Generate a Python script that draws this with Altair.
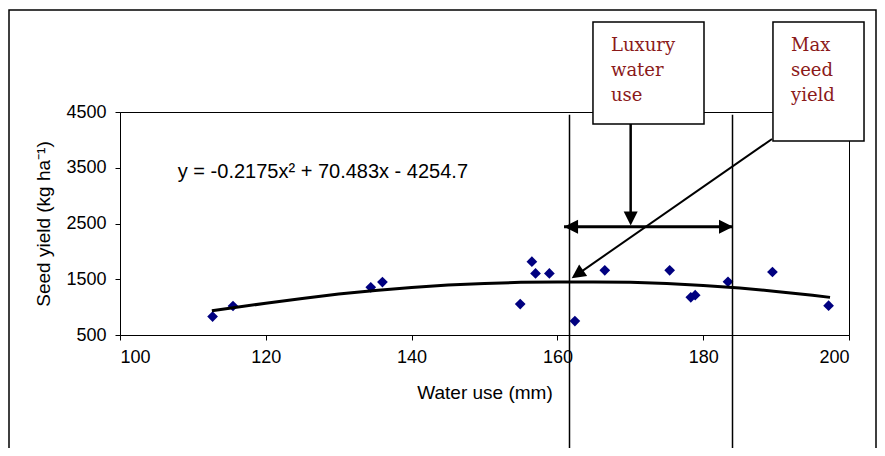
import altair as alt
import pandas as pd

# ---- data ----
water_use = [112.7, 115.5, 134.4, 136.0, 154.9, 156.5, 157.0, 158.9,
             162.4, 166.5, 175.4, 178.3, 178.9, 183.4, 189.5, 197.2]
seed_yield = [830, 1020, 1355, 1450, 1055, 1815, 1605, 1605,
              750, 1660, 1660, 1175, 1215, 1455, 1630, 1025]

curve_water = [112.6, 120, 125, 130, 135, 140, 145, 150, 155, 160,
               165, 170, 175, 180, 185, 190, 195, 197.4]
curve_yield = [935, 1070, 1155, 1235, 1300, 1350, 1395, 1425, 1445, 1452,
               1452, 1445, 1425, 1390, 1345, 1280, 1215, 1175]

x_ticks = [100, 120, 140, 160, 180, 200]
y_ticks = [500, 1500, 2500, 3500, 4500]

equation = "y = -0.2175x\u00b2 + 70.483x - 4254.7"
luxury_label = ["Luxury", "water", "use"]
max_label = ["Max", "seed", "yield"]
luxury_bounds = [161.66, 184.02]  # water use marking the luxury range

# ---- layout ----
W, H = 729, 223
xscale = alt.Scale(domain=[100, 200], nice=False, zero=False)
yscale = alt.Scale(domain=[500, 4500], nice=False, zero=False)
x_axis = alt.Axis(values=x_ticks, title="Water use (mm)", format="d", labelPadding=8,
                  titlePadding=17, tickSize=5, grid=False,
                  labelFont="Liberation Sans", labelFontSize=18, labelColor="black",
                  titleFont="Liberation Sans", titleFontSize=19, titleFontWeight="normal",
                  titleColor="black", domainColor="black", tickColor="black")
y_axis = alt.Axis(values=y_ticks, title="Seed yield (kg ha\u207b\u00b9)", format="d", labelPadding=9,
                  titlePadding=12, tickSize=5, grid=False,
                  labelFont="Liberation Sans", labelFontSize=18, labelColor="black",
                  titleFont="Liberation Sans", titleFontSize=19, titleFontWeight="normal",
                  titleColor="black", domainColor="black", tickColor="black")


def X(f):
    return alt.X(f"{f}:Q", scale=xscale, axis=x_axis)


def Y(f):
    return alt.Y(f"{f}:Q", scale=yscale, axis=y_axis)


pts = pd.DataFrame({"x": water_use, "y": seed_yield})
crv = pd.DataFrame({"x": curve_water, "y": curve_yield})

scatter = alt.Chart(pts).mark_point(shape="diamond", filled=True, size=115,
                                    color="#000080", opacity=1).encode(x=X("x"), y=Y("y"))
curve = alt.Chart(crv).mark_line(color="black", strokeWidth=3).encode(
    x=X("x"), y=Y("y"), order="x:Q")

vlines = alt.Chart(pd.DataFrame({"x": luxury_bounds, "y": [4450, 4450], "y2": [-2200, -2200]})).mark_rule(
    color="black", strokeWidth=1.5).encode(x=X("x"), y=Y("y"), y2="y2:Q")

# annotation geometry (data units)
arrow_y = 2442
hstem = alt.Chart(pd.DataFrame({"x": [160.91], "x2": [184.09], "y": [arrow_y]})).mark_rule(
    color="black", strokeWidth=3).encode(x=X("x"), x2="x2:Q", y=Y("y"))
vstem = alt.Chart(pd.DataFrame({"x": [170.05], "y": [4285], "y2": [2560]})).mark_rule(
    color="black", strokeWidth=2.5).encode(x=X("x"), y=Y("y"), y2="y2:Q")
dstem = alt.Chart(pd.DataFrame({"x": [189.44], "x2": [162.6], "y": [4016], "y2": [1575]})).mark_rule(
    color="black", strokeWidth=2).encode(x=X("x"), x2="x2:Q", y=Y("y"), y2="y2:Q")

head_path = "M0,0L-2,-1L-2,1Z"
heads = pd.DataFrame({
    "x": [160.91, 184.09, 170.05, 161.96],
    "y": [arrow_y, arrow_y, 2462, 1517],
    "a": [180, 0, 90, 145],
})
arrowheads = alt.Chart(heads).mark_point(shape=head_path, filled=True, size=196,
                                         color="black", opacity=1, strokeWidth=0).encode(
    x=X("x"), y=Y("y"), angle=alt.Angle("a:Q", scale=None))

boxes = pd.DataFrame({
    "x": [164.88, 189.57], "x2": [180.11, 202.06],
    "y": [6115, 6115], "y2": [4285, 3980],
})
box = alt.Chart(boxes).mark_rect(fill="white", stroke="black", strokeWidth=1.5).encode(
    x=X("x"), x2="x2:Q", y=Y("y"), y2="y2:Q")

labels = pd.DataFrame({
    "x": [167.35, 192.04], "y": [5850, 5850],
    "t": ["\n".join(luxury_label), "\n".join(max_label)],
})
box_text = alt.Chart(labels).mark_text(align="left", baseline="top", lineBreak="\n",
                                       lineHeight=25, font="DejaVu Serif", fontSize=18,
                                       color="#8B1A1A").encode(x=X("x"), y=Y("y"), text="t:N")

eq = alt.Chart(pd.DataFrame({"x": [107.93], "y": [3424], "t": [equation]})).mark_text(
    align="left", baseline="middle", font="Liberation Sans", fontSize=20, color="black").encode(
    x=X("x"), y=Y("y"), text="t:N")

frame = alt.Chart(pd.DataFrame({"k": [0]})).mark_rect(
    fillOpacity=0, stroke="black", strokeWidth=1.5).encode(
    x=alt.value(-111), x2=alt.value(756), y=alt.value(-102), y2=alt.value(400))

chart = alt.layer(
    scatter, curve, vlines, hstem, vstem, dstem, arrowheads, box, box_text, eq, frame
).properties(
    width=W, height=H,
    autosize=alt.AutoSizeParams(type="none"),
    padding={"left": 112, "top": 104, "right": 28, "bottom": 113},
    background="white",
).configure_view(
    stroke="black", strokeWidth=1
)

chart.save("out.html", embed_options={"renderer": "svg", "actions": False})
